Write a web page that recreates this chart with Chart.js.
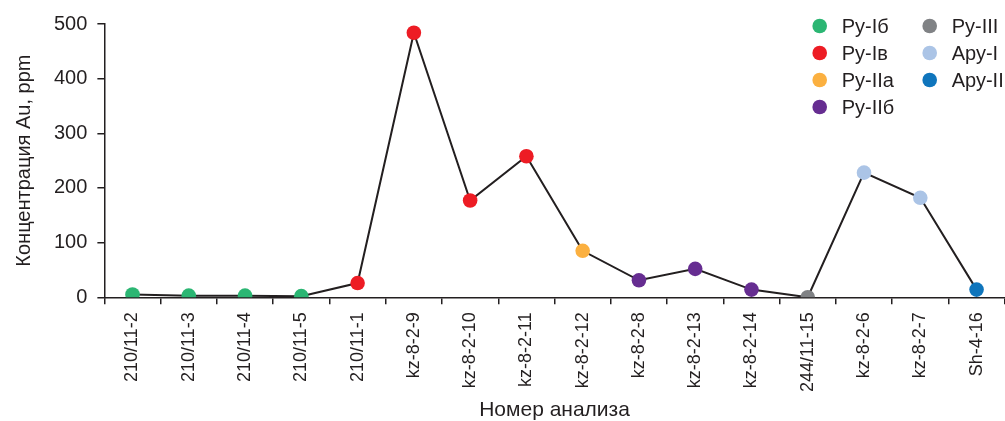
<!DOCTYPE html>
<html>
<head>
<meta charset="utf-8">
<script src="https://cdn.jsdelivr.net/npm/chart.js@4/dist/chart.umd.min.js"></script>
<style>
  html, body { margin: 0; padding: 0; background: #ffffff; overflow: hidden; }
  #wrap { width: 1012px; height: 421px; position: relative; }
</style>
</head>
<body>
<div id="wrap"><canvas id="chart"></canvas></div>
<script>
// Sample numbers along the x axis
const samples = ['210/11-2', '210/11-3', '210/11-4', '210/11-5', '210/11-1', 'kz-8-2-9',
  'kz-8-2-10', 'kz-8-2-11', 'kz-8-2-12', 'kz-8-2-8', 'kz-8-2-13', 'kz-8-2-14',
  '244/11-15', 'kz-8-2-6', 'kz-8-2-7', 'Sh-4-16'];

// Au concentration, ppm
const auPpm = [5, 3, 3, 2, 26, 484, 177, 258, 85, 31, 52, 14, 0, 228, 182, 14];

// Ore type of each sample (index into groupNames)
const sampleGroup = [0, 0, 0, 0, 1, 1, 1, 1, 2, 3, 3, 3, 4, 5, 5, 6];

// Ore types and their marker colours
const groupNames = ['Ру-Iб', 'Ру-Iв', 'Ру-IIa', 'Ру-IIб', 'Ру-III', 'Ару-I', 'Ару-II'];
const groupColors = ['#2bb673', '#ed1c24', '#fbb040', '#662d91', '#808285', '#abc4e6', '#0f75bc'];

// Y axis ticks
const yTicks = [0, 100, 200, 300, 400, 500];

const FONT = "'Liberation Sans', Arial, Helvetica, sans-serif";
const INK = '#231f20';

// Two-column legend of ore types drawn inside the plot area, top right
const groupLegend = {
  id: 'groupLegend',
  afterDraw(chart) {
    const { ctx, chartArea } = chart;
    const perCol = 4, rowH = 27, r = 7.3;
    const colX = [chartArea.right - 185, chartArea.right - 75];
    ctx.save();
    ctx.font = '20px ' + FONT;
    ctx.textBaseline = 'middle';
    ctx.textAlign = 'left';
    groupNames.forEach((name, i) => {
      const col = Math.floor(i / perCol), row = i % perCol;
      const cx = colX[col];
      const cy = chartArea.top + 2 + row * rowH;
      ctx.beginPath();
      ctx.arc(cx, cy, r, 0, Math.PI * 2);
      ctx.fillStyle = groupColors[i];
      ctx.fill();
      ctx.fillStyle = INK;
      ctx.fillText(name, cx + 22, cy + 1);
    });
    ctx.restore();
  }
};

new Chart(document.getElementById('chart'), {
  type: 'line',
  data: {
    labels: samples,
    datasets: [{
      label: 'Au',
      data: auPpm,
      borderColor: INK,
      borderWidth: 2,
      tension: 0,
      fill: false,
      pointRadius: 7.3,
      pointHoverRadius: 7.3,
      pointBorderWidth: 0,
      pointBackgroundColor: sampleGroup.map(g => groupColors[g]),
      pointBorderColor: sampleGroup.map(g => groupColors[g])
    }]
  },
  options: {
    responsive: true,
    maintainAspectRatio: false,
    animation: false,
    layout: { padding: { left: 12, right: 0, top: 24, bottom: 0 } },
    plugins: {
      legend: { display: false },
      tooltip: { enabled: false }
    },
    scales: {
      x: {
        type: 'category',
        offset: true,
        border: { display: true, color: INK, width: 1.5 },
        grid: { display: true, drawOnChartArea: false, drawTicks: true, tickLength: 7, color: INK, lineWidth: 1.5, offset: true },
        ticks: {
          autoSkip: false, maxRotation: 90, minRotation: 90,
          color: INK, padding: 8,
          font: { family: FONT, size: 18 }
        },
        title: {
          display: true, text: 'Номер анализа', color: INK,
          font: { family: FONT, size: 21, lineHeight: 1 }, padding: { top: 0, bottom: 0 }
        }
      },
      y: {
        min: 0, max: 500,
        afterBuildTicks: axis => { axis.ticks = yTicks.map(v => ({ value: v })); },
        border: { display: true, color: INK, width: 1.5 },
        grid: { display: true, drawOnChartArea: false, drawTicks: true, tickLength: 7, color: INK, lineWidth: 1.5 },
        ticks: { color: INK, padding: 10, font: { family: FONT, size: 20 } },
        title: {
          display: true, text: 'Концентрация Au, ppm', color: INK,
          font: { family: FONT, size: 20 }, padding: { top: 0, bottom: 8 }
        }
      }
    }
  },
  plugins: [groupLegend]
});
</script>
</body>
</html>
